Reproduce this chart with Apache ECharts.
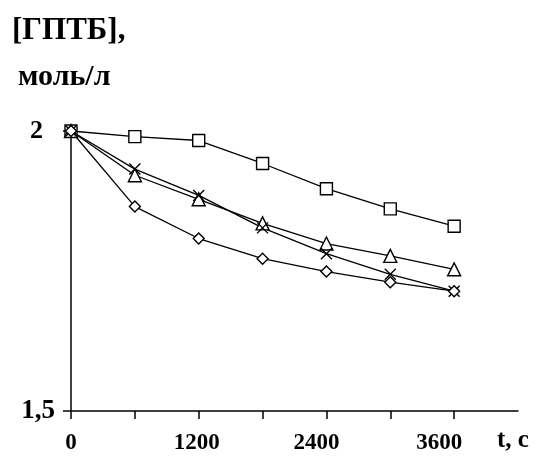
<!DOCTYPE html>
<html><head><meta charset="utf-8">
<script src="https://cdn.jsdelivr.net/npm/echarts@6/dist/echarts.min.js"></script>
<style>html,body{margin:0;padding:0;background:#fff}#c{width:544px;height:470px}</style>
</head><body><div id="c"></div>
<script>
const times = [0, 600, 1200, 1800, 2400, 3000, 3600];
const squares  = [2.000, 1.990, 1.983, 1.942, 1.897, 1.861, 1.830];
const triangles= [2.000, 1.921, 1.878, 1.835, 1.799, 1.777, 1.753];
const crosses  = [2.000, 1.932, 1.885, 1.827, 1.781, 1.744, 1.714];
const diamonds = [2.000, 1.865, 1.808, 1.772, 1.749, 1.730, 1.714];
const xTickLabels = {0:'0', 1200:'1200', 2400:'2400', 3600:'3600'};
const yTickLabels = {1.5:'1,5', 2:'2'};
const titleLine1 = '[ГПТБ],';
const titleLine2 = 'моль/л';
const xName = 't, c';

const font = '"Liberation Serif", "DejaVu Serif", serif';
function pairs(ys){ return times.map((t,i)=>[t, ys[i]]); }
const crossPath = 'path://M0,0L10,10M10,0L0,10';
function mk(name, ys, symbol, size, fill){
  return {
    name, type:'line', data: pairs(ys), symbol, symbolSize:size, showSymbol:true,
    lineStyle:{color:'#000', width:1.3},
    itemStyle:{color:fill, borderColor:'#000', borderWidth:1.4},
    emphasis:{disabled:true}, animation:false, z: 3
  };
}
const xRich = {};
const xShift = {0:'p0', 1200:'p1', 2400:'p2', 3600:'p3'};
const baseX = {fontFamily:font, fontWeight:'bold', fontSize:23, color:'#000'};
xRich.p0 = Object.assign({}, baseX, {padding:[0,0,0,0]});
xRich.p1 = Object.assign({}, baseX, {padding:[0,4,0,0]});
xRich.p2 = Object.assign({}, baseX, {padding:[0,20,0,0]});
xRich.p3 = Object.assign({}, baseX, {padding:[0,30,0,0]});

const chart = echarts.init(document.getElementById('c'), null, {renderer:'canvas'});
chart.setOption({
  backgroundColor:'#fff',
  animation:false,
  grid:{left:71, right:26, top:131, bottom:59, containLabel:false},
  xAxis:{
    type:'value', min:0, max:4200, interval:600,
    axisLine:{show:true, lineStyle:{color:'#000', width:1.5}},
    axisTick:{show:true, length:8, lineStyle:{color:'#000', width:1.5}},
    splitLine:{show:false},
    axisLabel:{
      margin:21, color:'#000', fontFamily:font, fontWeight:'bold', fontSize:23,
      showMaxLabel:false,
      formatter: v => (xTickLabels[v] !== undefined ? '{' + xShift[v] + '|' + xTickLabels[v] + '}' : ''),
      rich: xRich
    }
  },
  yAxis:{
    type:'value', min:1.5, max:2, interval:0.5,
    axisLine:{show:true, lineStyle:{color:'#000', width:1.5}},
    axisTick:{show:true, length:8, lineStyle:{color:'#000', width:1.5}},
    splitLine:{show:false},
    axisLabel:{
      margin:16, color:'#000', fontFamily:font, fontWeight:'bold', fontSize:26,
      formatter: v => {
        const k = Math.round(v*10)/10;
        if (k === 2) return '{a|' + yTickLabels[2] + '}';
        if (k === 1.5) return '{b|' + yTickLabels[1.5] + '}';
        return '';
      },
      rich:{
        a:{fontFamily:font, fontWeight:'bold', fontSize:26, color:'#000', padding:[0,12,0,0]},
        b:{fontFamily:font, fontWeight:'bold', fontSize:27, color:'#000'}
      }
    }
  },
  graphic:[
    {type:'text', left:12, top:15, style:{text:titleLine1, font:'bold 31px ' + font, fill:'#000'}},
    {type:'text', left:18, top:62, style:{text:titleLine2, font:'bold 30px ' + font, fill:'#000'}},
    {type:'text', left:497, top:428, style:{text:xName, font:'bold 25px ' + font, fill:'#000'}}
  ],
  series:[
    mk('squares', squares, 'rect', 12, '#fff'),
    mk('triangles', triangles, 'triangle', 13, '#fff'),
    mk('crosses', crosses, crossPath, 11, 'none'),
    mk('diamonds', diamonds, 'diamond', 11, '#fff')
  ]
});
</script>
</body></html>
